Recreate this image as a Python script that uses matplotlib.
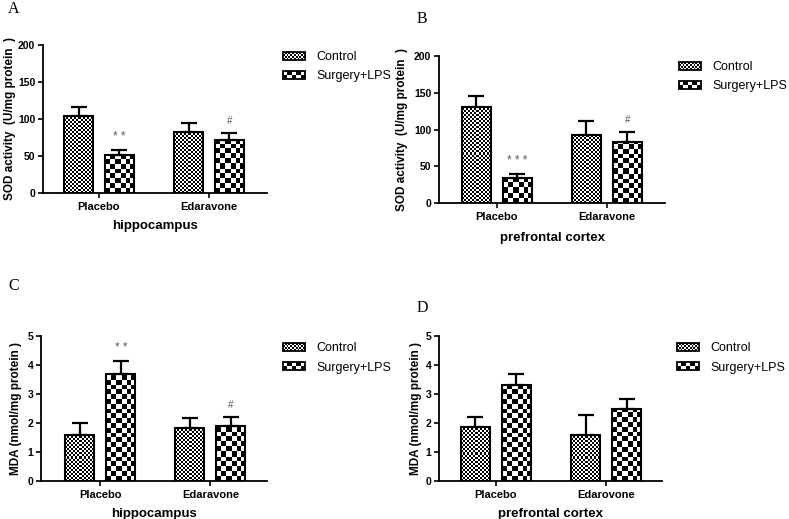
import numpy as np
import matplotlib
matplotlib.use("Agg")
import matplotlib.pyplot as plt
from matplotlib.patches import Rectangle
from matplotlib.legend_handler import HandlerBase

plt.rcParams['font.family'] = ['Liberation Sans', 'DejaVu Sans']

# ---- data ----
groups = ['Placebo', 'Edaravone']
groups_d = ['Placebo', 'Edarovone']
series = ['Control', 'Surgery+LPS']

sod_hip_ctrl = [104, 82]
sod_hip_ctrl_err = [12, 12.5]
sod_hip_lps = [51, 72]
sod_hip_lps_err = [7, 8.5]

sod_pfc_ctrl = [131, 92]
sod_pfc_ctrl_err = [15, 20]
sod_pfc_lps = [34.5, 83.5]
sod_pfc_lps_err = [5.5, 13.5]

mda_hip_ctrl = [1.59, 1.82]
mda_hip_ctrl_err = [0.40, 0.36]
mda_hip_lps = [3.68, 1.91]
mda_hip_lps_err = [0.46, 0.31]

mda_pfc_ctrl = [1.87, 1.59]
mda_pfc_ctrl_err = [0.35, 0.69]
mda_pfc_lps = [3.31, 2.49]
mda_pfc_lps_err = [0.39, 0.33]

# significance marks above the Surgery+LPS bars
marks_a = ['* *', '#']
marks_b = ['* * *', '#']
marks_c = ['* *', '#']
marks_d = ['', '']

W, H = 789, 519
fig = plt.figure(figsize=(W / 100, H / 100), dpi=100)

BAR_W = 0.264
OFF = 0.186
CTRL_SQ = 2.0   # checker square size in pixels
LPS_SQ = 4.8


def px_axes(x0, y0, x1, y1):
    return fig.add_axes([x0 / W, 1 - y1 / H, (x1 - x0) / W, (y1 - y0) / H])


def checker_fill(ax, bar, sq):
    bx, bw, bh = bar.get_x(), bar.get_width(), bar.get_height()
    (px0, py0) = ax.transData.transform((bx, 0))
    (px1, py1) = ax.transData.transform((bx + bw, bh))
    wpx = max(int(round(px1 - px0)), 1)
    hpx = max(int(round(py1 - py0)), 1)
    jj, ii = np.meshgrid(np.arange(wpx), np.arange(hpx))
    arr = ((np.floor(jj / sq) + np.floor(ii / sq)) % 2).astype(float)
    ax.imshow(arr, cmap='gray', vmin=0, vmax=1, extent=(bx, bx + bw, 0, bh),
              origin='lower', interpolation='nearest', aspect='auto',
              clip_path=bar, zorder=1.5)


class CheckerHandler(HandlerBase):
    def __init__(self, ncols, nrows):
        super().__init__()
        self.ncols = ncols
        self.nrows = nrows

    def create_artists(self, legend, orig_handle, xdescent, ydescent,
                       width, height, fontsize, trans):
        x0, y0 = -xdescent, -ydescent
        arts = [Rectangle((x0, y0), width, height, facecolor='white',
                          edgecolor='none', transform=trans)]
        cw, ch = width / self.ncols, height / self.nrows
        for i in range(self.ncols):
            for j in range(self.nrows):
                if (i + j) % 2 == 0:
                    arts.append(Rectangle((x0 + i * cw, y0 + j * ch), cw, ch,
                                          facecolor='black', edgecolor='none',
                                          transform=trans))
        arts.append(Rectangle((x0, y0), width, height, facecolor='none',
                              edgecolor='black', lw=1.3, transform=trans))
        return arts


def panel(rect, xlim, ylim, yticks, cats, ctrl, ctrl_err, lps, lps_err, marks,
          ylabel, xlabel, ylab_x, leg_xy, letter, letter_xy, xlabel_pad):
    ax = px_axes(*rect)
    ax.set_xlim(*xlim)
    ax.set_ylim(*ylim)
    x = np.arange(len(cats))
    b1 = ax.bar(x - OFF, ctrl, BAR_W, facecolor='none', edgecolor='black',
                linewidth=1.5, zorder=2, label=series[0])
    b2 = ax.bar(x + OFF, lps, BAR_W, facecolor='none', edgecolor='black',
                linewidth=1.5, zorder=2, label=series[1])
    for bar in b1:
        checker_fill(ax, bar, CTRL_SQ)
    for bar in b2:
        checker_fill(ax, bar, LPS_SQ)
    z = np.zeros(len(cats))
    ax.errorbar(x - OFF, ctrl, yerr=[z, ctrl_err], fmt='none', ecolor='black',
                elinewidth=1.6, capsize=5.7, capthick=1.6, zorder=3)
    ax.errorbar(x + OFF, lps, yerr=[z, lps_err], fmt='none', ecolor='black',
                elinewidth=1.6, capsize=5.7, capthick=1.6, zorder=3)
    for xi, v, e, m in zip(x + OFF, lps, lps_err, marks):
        if m:
            fs = 8.5 if m.startswith('*') else 7
            ax.annotate(m, (xi, v + e), xytext=(0, 5), textcoords='offset points',
                        ha='center', va='bottom', fontsize=fs, color='#555a66')
    ax.set_xlim(*xlim)
    ax.set_ylim(*ylim)
    ax.set_yticks(yticks)
    ax.set_xticks(x)
    ax.set_xticklabels(cats, fontsize=8, fontweight='bold')
    for t in ax.get_yticklabels():
        t.set_fontsize(7.5)
        t.set_fontweight('bold')
    ax.tick_params(axis='both', length=3.5, width=1.2, pad=2)
    ax.tick_params(axis='x', pad=3)
    for s in ['top', 'right']:
        ax.spines[s].set_visible(False)
    for s in ['left', 'bottom']:
        ax.spines[s].set_linewidth(1.3)
    ax.set_ylabel(ylabel, fontsize=8.5, fontweight='bold')
    ax.yaxis.set_label_coords(ylab_x, 0.5)
    ax.set_xlabel(xlabel, fontsize=9.5, fontweight='bold', labelpad=xlabel_pad)
    ax.legend([b1, b2], series, loc='upper left',
              bbox_to_anchor=(leg_xy[0] / W, 1 - leg_xy[1] / H),
              bbox_transform=fig.transFigure, frameon=False, fontsize=9,
              borderpad=0, borderaxespad=0, handlelength=1.75, handleheight=0.62,
              handletextpad=0.9, labelspacing=0.6,
              handler_map={b1: CheckerHandler(12, 4), b2: CheckerHandler(5, 2)})
    fig.text(letter_xy[0] / W, 1 - letter_xy[1] / H, letter, fontsize=11.5,
             family='Liberation Serif', ha='left', va='baseline')
    return ax


panel((43, 45, 267, 193), (-0.509, 1.527), (0, 200), [0, 50, 100, 150, 200],
      groups, sod_hip_ctrl, sod_hip_ctrl_err, sod_hip_lps, sod_hip_lps_err, marks_a,
      'SOD activity  (U/mg protein  )', 'hippocampus', -0.12, (283, 51), 'A', (8, 13), 6)

panel((439, 56, 665, 203), (-0.525, 1.53), (0, 200), [0, 50, 100, 150, 200],
      groups, sod_pfc_ctrl, sod_pfc_ctrl_err, sod_pfc_lps, sod_pfc_lps_err, marks_b,
      'SOD activity  (U/mg protein  )', 'prefrontal cortex', -0.135, (679, 61), 'B', (417, 23), 7)

panel((41, 336, 267, 481), (-0.539, 1.514), (0, 5), [0, 1, 2, 3, 4, 5],
      groups, mda_hip_ctrl, mda_hip_ctrl_err, mda_hip_lps, mda_hip_lps_err, marks_c,
      'MDA (nmol/mg protein )', 'hippocampus', -0.085, (283, 342), 'C', (8, 290), 6)

panel((439, 336, 662, 481), (-0.516, 1.505), (0, 5), [0, 1, 2, 3, 4, 5],
      groups_d, mda_pfc_ctrl, mda_pfc_ctrl_err, mda_pfc_lps, mda_pfc_lps_err, marks_d,
      'MDA (nmol/mg protein )', 'prefrontal cortex', -0.077, (677, 342), 'D', (417, 312), 6)

fig.savefig('out.png', dpi=100, facecolor='white')
